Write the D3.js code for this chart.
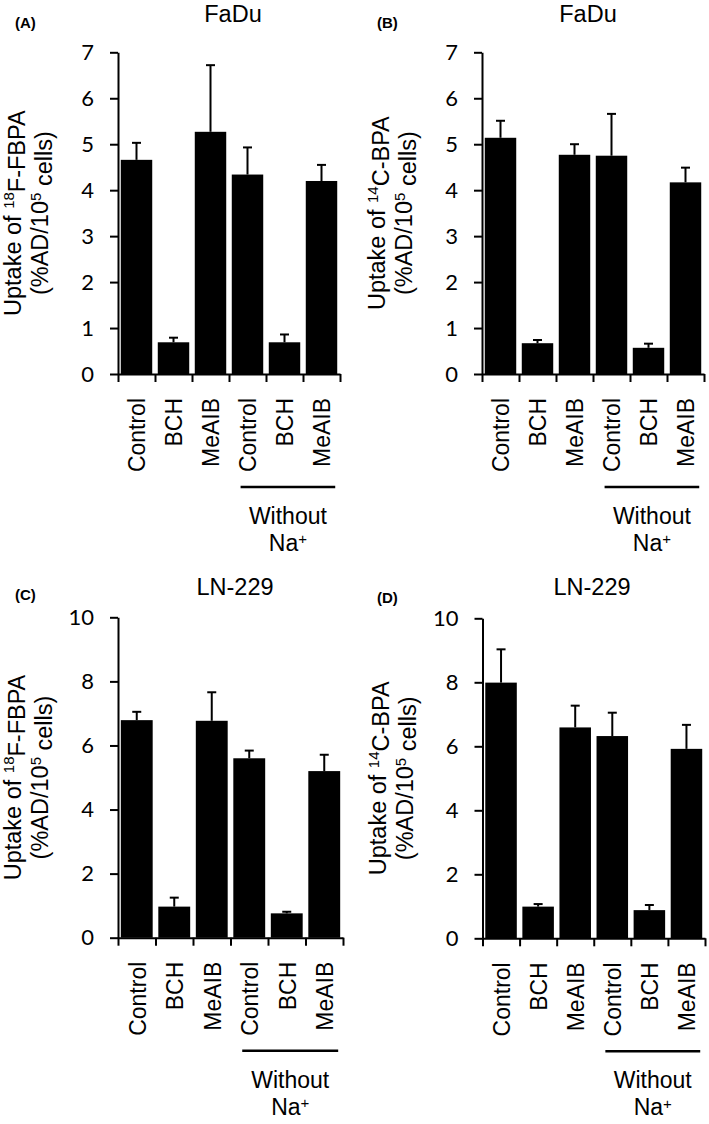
<!DOCTYPE html>
<html>
<head>
<meta charset="utf-8">
<script src="https://cdn.jsdelivr.net/npm/d3@7"></script>
<style>
  body { margin: 0; background: #fff; }
  text { fill: #000; }
</style>
</head>
<body>
<svg id="fig" width="709" height="1124"></svg>
<script>
const categories = ["Control", "BCH", "MeAIB", "Control", "BCH", "MeAIB"];

// FaDu, 18F-FBPA
const fbpaFadu = [4.66, 0.69, 5.27, 4.34, 0.69, 4.2];
const fbpaFaduSd = [0.37, 0.1, 1.45, 0.59, 0.17, 0.35];
// FaDu, 14C-BPA
const bpaFadu = [5.14, 0.67, 4.77, 4.75, 0.57, 4.17];
const bpaFaduSd = [0.37, 0.07, 0.23, 0.91, 0.09, 0.32];
// LN-229, 18F-FBPA
const fbpaLn = [6.79, 0.97, 6.77, 5.6, 0.76, 5.2];
const fbpaLnSd = [0.26, 0.28, 0.89, 0.24, 0.05, 0.51];
// LN-229, 14C-BPA
const bpaLn = [7.99, 0.99, 6.59, 6.32, 0.88, 5.92];
const bpaLnSd = [1.04, 0.08, 0.68, 0.73, 0.16, 0.75];

const ticksFadu = [0, 1, 2, 3, 4, 5, 6, 7];
const ticksLn = [0, 2, 4, 6, 8, 10];

const panels = [
  { tag: "(A)", title: "FaDu", tracer: ["18", "F-FBPA"], vals: fbpaFadu, sd: fbpaFaduSd,
    ticks: ticksFadu, x0: 118, w: 222, yTop: 52.3, yBot: 374, tagX: 15, tagY: 28, titleX: 233, titleY: 22 },
  { tag: "(B)", title: "FaDu", tracer: ["14", "C-BPA"], vals: bpaFadu, sd: bpaFaduSd,
    ticks: ticksFadu, x0: 482, w: 222, yTop: 52.3, yBot: 374, tagX: 377, tagY: 28, titleX: 588, titleY: 22 },
  { tag: "(C)", title: "LN-229", tracer: ["18", "F-FBPA"], vals: fbpaLn, sd: fbpaLnSd,
    ticks: ticksLn, x0: 118, w: 225, yTop: 617.3, yBot: 937.7, tagX: 15, tagY: 600, titleX: 235, titleY: 595 },
  { tag: "(D)", title: "LN-229", tracer: ["14", "C-BPA"], vals: bpaLn, sd: bpaLnSd,
    ticks: ticksLn, x0: 482.5, w: 222.5, yTop: 618.3, yBot: 938.3, tagX: 377, tagY: 603, titleX: 592, titleY: 595 }
];

const svg = d3.select("#fig");
const sans = "'Liberation Sans', Arial, sans-serif";
const numFont = "Lato, 'Open Sans', sans-serif";

panels.forEach((p) => {
  const g = svg.append("g");
  const idx = d3.range(categories.length);

  const x = d3.scaleBand()
    .domain(idx)
    .range([p.x0, p.x0 + p.w])
    .paddingInner(0.15)
    .paddingOuter(0.075);
  const xEdge = d3.scaleLinear().domain([0, categories.length]).range([p.x0, p.x0 + p.w]);
  const y = d3.scaleLinear()
    .domain([0, d3.max(p.ticks)])
    .range([p.yBot, p.yTop]);

  // bars
  g.selectAll("rect.bar")
    .data(idx)
    .enter()
    .append("rect")
    .attr("class", "bar")
    .attr("x", (i) => x(i))
    .attr("width", x.bandwidth())
    .attr("y", (i) => y(p.vals[i]))
    .attr("height", (i) => y(0) - y(p.vals[i]))
    .attr("fill", "#000");

  // error bars (upper only)
  const err = g.selectAll("g.err").data(idx).enter().append("g").attr("class", "err");
  err.append("line")
    .attr("x1", (i) => x(i) + x.bandwidth() / 2)
    .attr("x2", (i) => x(i) + x.bandwidth() / 2)
    .attr("y1", (i) => y(p.vals[i]))
    .attr("y2", (i) => y(p.vals[i] + p.sd[i]))
    .attr("stroke", "#000")
    .attr("stroke-width", 2);
  err.append("line")
    .attr("x1", (i) => x(i) + x.bandwidth() / 2 - 4.5)
    .attr("x2", (i) => x(i) + x.bandwidth() / 2 + 4.5)
    .attr("y1", (i) => y(p.vals[i] + p.sd[i]))
    .attr("y2", (i) => y(p.vals[i] + p.sd[i]))
    .attr("stroke", "#000")
    .attr("stroke-width", 2);

  // y axis
  const yAxis = g.append("g")
    .attr("transform", `translate(${p.x0},0)`)
    .call(d3.axisLeft(y).tickValues(p.ticks).tickFormat(d3.format("d"))
      .tickSize(8).tickSizeOuter(0).tickPadding(16));
  yAxis.selectAll("text")
    .style("font-family", numFont)
    .style("font-size", "22px");

  // x axis, ticks between the bars
  const xAxis = g.append("g")
    .attr("transform", `translate(0,${p.yBot})`)
    .call(d3.axisBottom(xEdge).tickValues(d3.range(categories.length + 1))
      .tickSize(8).tickSizeOuter(0).tickFormat(""));

  [yAxis, xAxis].forEach((a) => {
    a.select(".domain").attr("stroke", "#000").attr("stroke-width", 2);
    a.selectAll(".tick line").attr("stroke", "#000").attr("stroke-width", 2);
  });

  // category labels
  g.selectAll("text.cat")
    .data(idx)
    .enter()
    .append("text")
    .attr("class", "cat")
    .attr("transform", (i) => `translate(${x(i) + x.bandwidth() / 2},${p.yBot + 24}) scale(1.08,1) rotate(-90)`)
    .attr("text-anchor", "end")
    .attr("dy", "0.36em")
    .style("font-family", sans)
    .style("font-size", "23px")
    .text((i) => categories[i]);

  // "Without Na+" bracket
  const bx1 = x(3) + x.bandwidth() * 0.28;
  const bx2 = x(5) + x.bandwidth() - 2;
  g.append("line")
    .attr("x1", bx1).attr("x2", bx2)
    .attr("y1", p.yBot + 113).attr("y2", p.yBot + 113)
    .attr("stroke", "#000")
    .attr("stroke-width", 2.5);
  const bc = (bx1 + bx2) / 2;
  g.append("text")
    .attr("x", bc).attr("y", p.yBot + 150)
    .attr("text-anchor", "middle")
    .style("font-family", sans).style("font-size", "23px")
    .text("Without");
  const na = g.append("text")
    .attr("x", bc).attr("y", p.yBot + 177)
    .attr("text-anchor", "middle")
    .style("font-family", sans).style("font-size", "23px");
  na.append("tspan").text("Na");
  na.append("tspan").attr("dy", "-0.45em").style("font-size", "15px").text("+");

  // y label
  const cy = (p.yTop + p.yBot) / 2;
  const yl = g.append("g").attr("transform", `translate(0,${cy}) rotate(-90)`);
  const l1 = yl.append("text")
    .attr("x", 0).attr("y", p.x0 - 97)
    .attr("text-anchor", "middle")
    .style("font-family", sans).style("font-size", "23.5px");
  l1.append("tspan").text("Uptake of ");
  l1.append("tspan").attr("dy", "-0.45em").style("font-size", "15px").text(p.tracer[0]);
  l1.append("tspan").attr("dy", "0.45em").text(p.tracer[1]);
  const l2 = yl.append("text")
    .attr("x", 0).attr("y", p.x0 - 70)
    .attr("text-anchor", "middle")
    .style("font-family", sans).style("font-size", "23.5px");
  l2.append("tspan").text("(%AD/10");
  l2.append("tspan").attr("dy", "-0.45em").style("font-size", "15px").text("5");
  l2.append("tspan").attr("dy", "0.45em").text(" cells)");

  // title and panel tag
  g.append("text")
    .attr("x", p.titleX).attr("y", p.titleY)
    .attr("text-anchor", "middle")
    .style("font-family", sans).style("font-size", "23.5px")
    .text(p.title);
  g.append("text")
    .attr("x", p.tagX).attr("y", p.tagY)
    .style("font-family", sans).style("font-size", "15px").style("font-weight", "bold")
    .text(p.tag);
});
</script>
</body>
</html>
